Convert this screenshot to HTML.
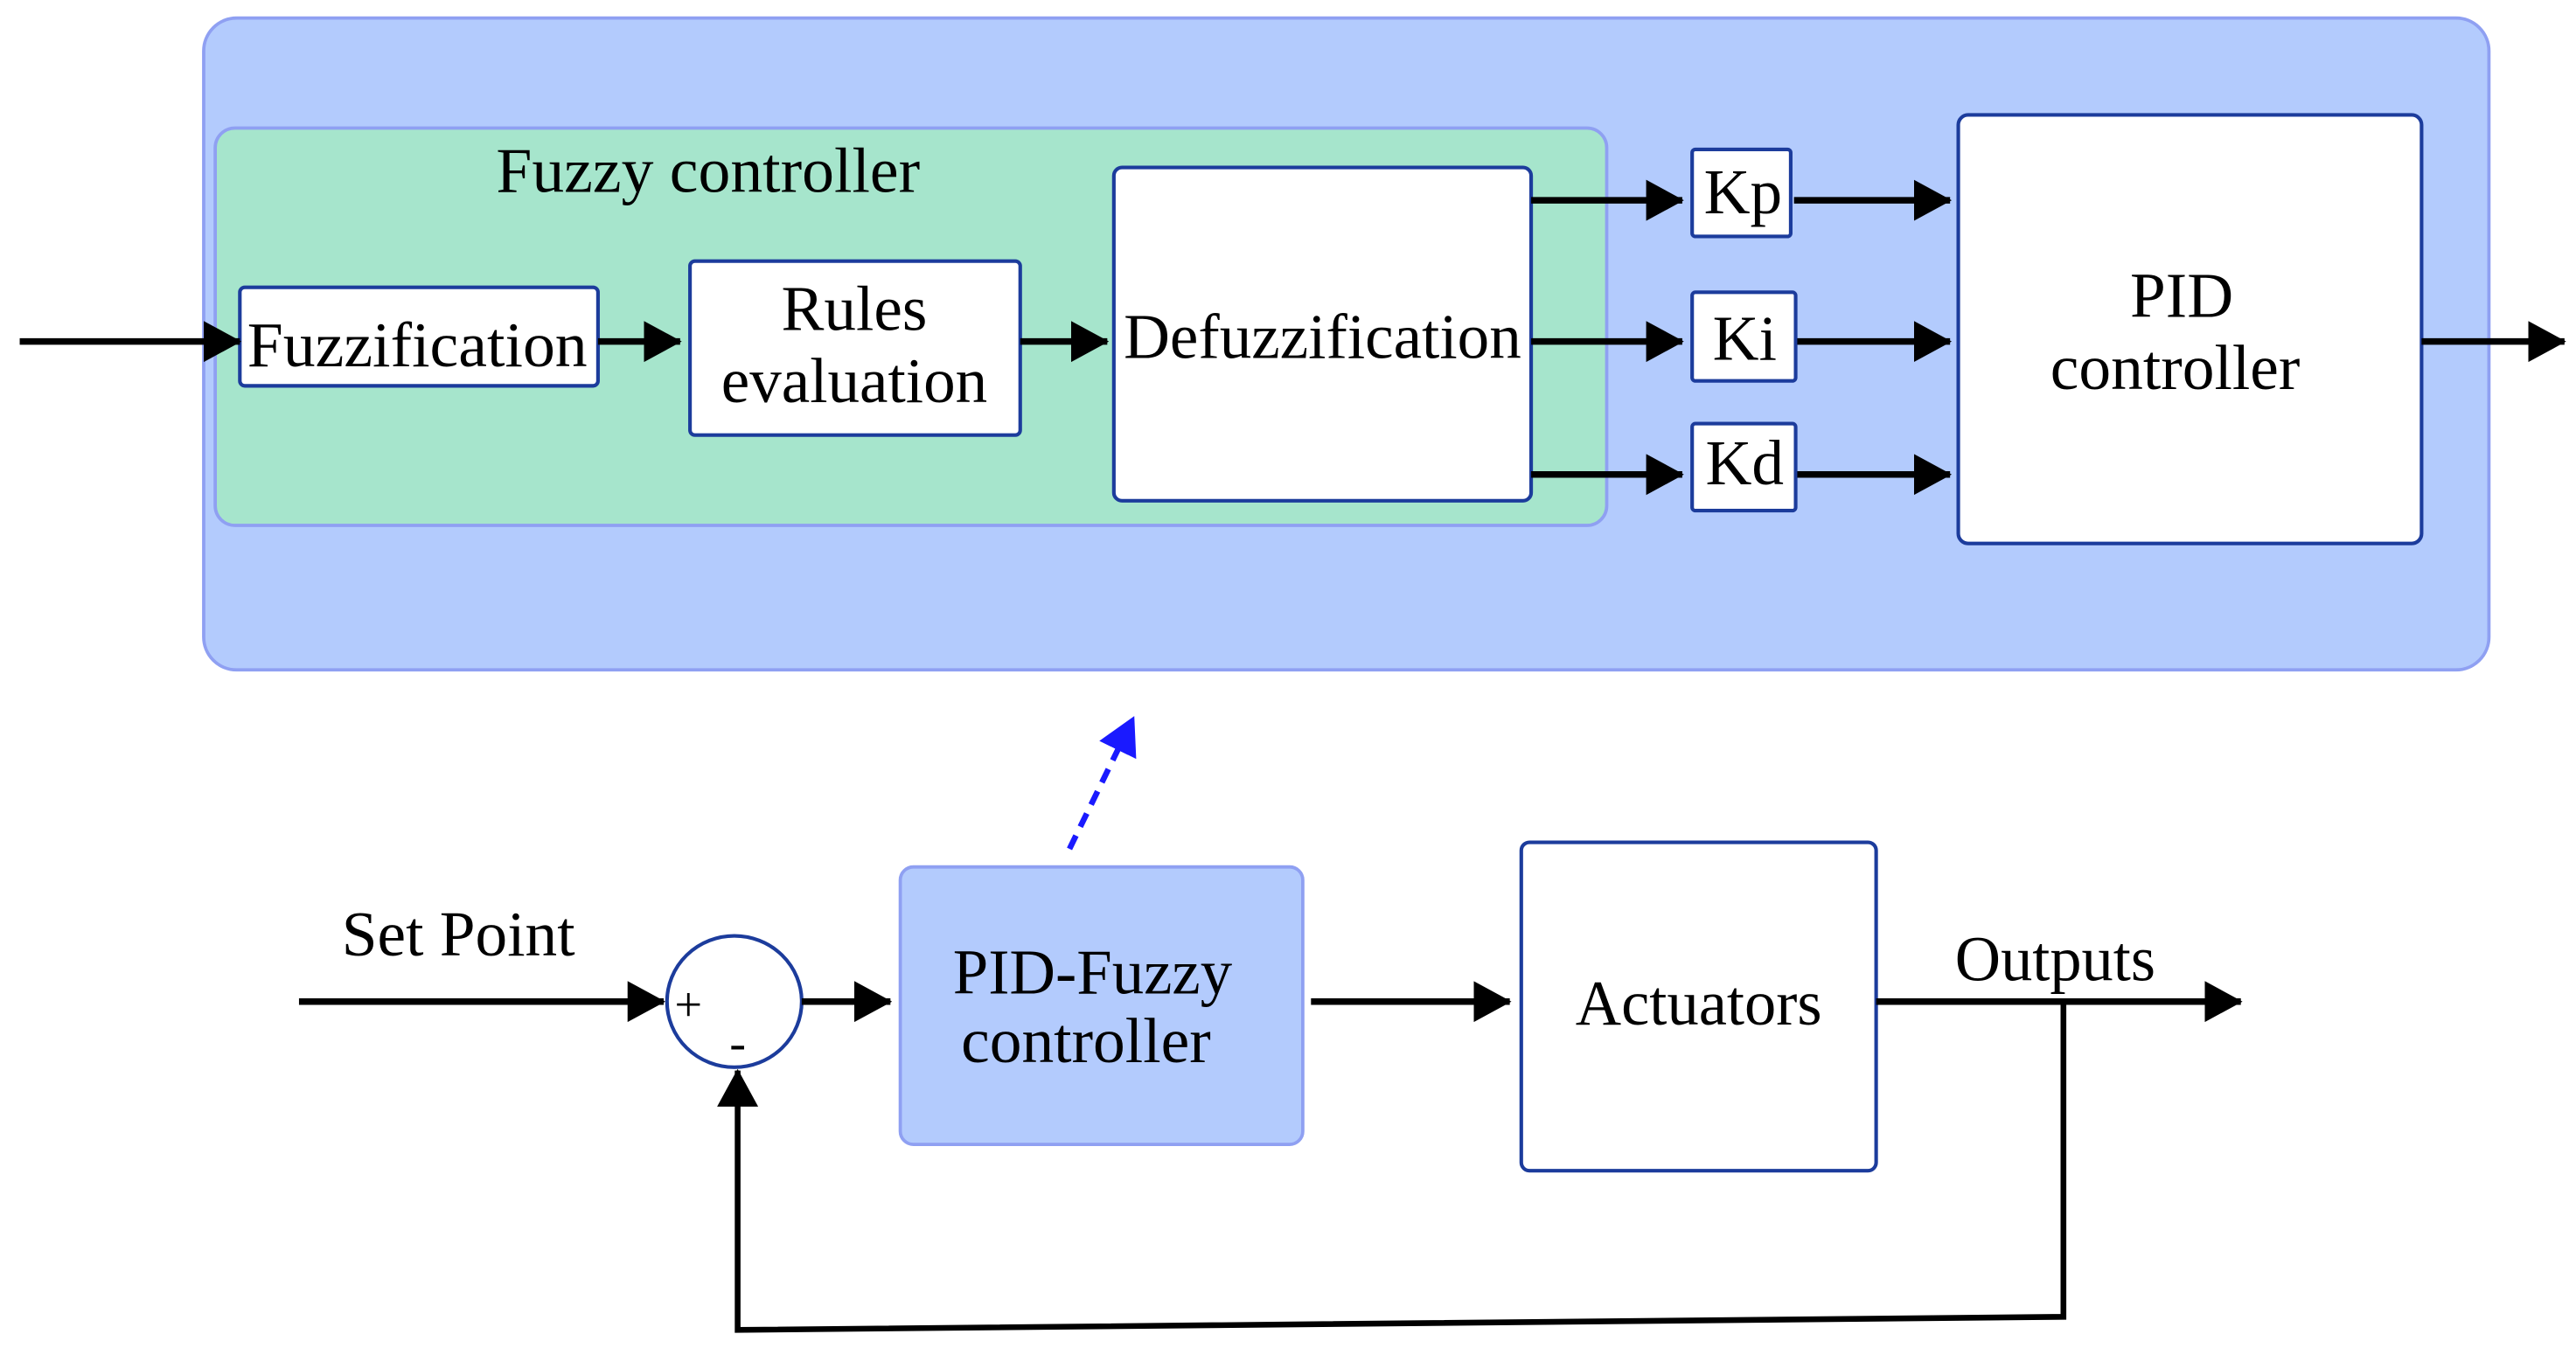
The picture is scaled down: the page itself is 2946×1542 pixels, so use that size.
<!DOCTYPE html>
<html><head><meta charset="utf-8"><style>
html,body{margin:0;padding:0;background:#fff;}
svg{display:block;}
text{font-family:"Liberation Serif",serif;fill:#000;}
</style></head><body>
<svg width="2946" height="1542" viewBox="0 0 1568 821" preserveAspectRatio="none" xmlns="http://www.w3.org/2000/svg">
<defs>
<marker id="ah" markerUnits="userSpaceOnUse" markerWidth="24" markerHeight="26" refX="22" refY="12.5" orient="auto">
<polygon points="0,0 23,12.5 0,25" fill="#000"/>
</marker>
<marker id="bh" markerUnits="userSpaceOnUse" markerWidth="24" markerHeight="26" refX="22" refY="12.5" orient="auto">
<polygon points="0,0 23,12.5 0,25" fill="#1a1aff"/>
</marker>
</defs>
<rect x="124" y="11" width="1391" height="397" rx="20" fill="#b3cbfd" stroke="#8fa0f2" stroke-width="2"/>
<rect x="131" y="78" width="847" height="242" rx="12" fill="#a6e5cc" stroke="#8fa0f2" stroke-width="2"/>
<g fill="#fff" stroke="#1c3c9c" stroke-width="2.2">
<rect x="146" y="175" width="218" height="60" rx="3"/>
<rect x="420" y="159" width="201" height="106" rx="3"/>
<rect x="678" y="102" width="254" height="203" rx="5"/>
<rect x="1030" y="91" width="60" height="53" rx="2"/>
<rect x="1030" y="178" width="63" height="54" rx="2"/>
<rect x="1030" y="258" width="63" height="53" rx="2"/>
<rect x="1192" y="70" width="282" height="261" rx="6"/>
<rect x="926" y="513" width="216" height="200" rx="5"/>
</g>
<rect x="548" y="528" width="245" height="169" rx="8" fill="#b3cbfd" stroke="#8fa0f2" stroke-width="2"/>
<ellipse cx="447" cy="610" rx="41" ry="40" fill="#fff" stroke="#1c3c9c" stroke-width="2.2"/>
<g font-size="39" text-anchor="middle">
<text x="431" y="117" textLength="258" lengthAdjust="spacingAndGlyphs">Fuzzy controller</text>
<text x="254" y="223" textLength="207" lengthAdjust="spacingAndGlyphs">Fuzzification</text>
<text x="520" y="201">Rules</text>
<text x="520" y="245" textLength="162" lengthAdjust="spacingAndGlyphs">evaluation</text>
<text x="805" y="218" textLength="242" lengthAdjust="spacingAndGlyphs">Defuzzification</text>
<text x="1061" y="130">Kp</text>
<text x="1062" y="219">Ki</text>
<text x="1062" y="295">Kd</text>
<text x="1328" y="193">PID</text>
<text x="1324" y="237" textLength="152" lengthAdjust="spacingAndGlyphs">controller</text>
<text x="665" y="605" textLength="170" lengthAdjust="spacingAndGlyphs">PID-Fuzzy</text>
<text x="661" y="647" textLength="152" lengthAdjust="spacingAndGlyphs">controller</text>
<text x="1034" y="624" textLength="150" lengthAdjust="spacingAndGlyphs">Actuators</text>
<text x="279" y="582" textLength="142" lengthAdjust="spacingAndGlyphs">Set Point</text>
<text x="1251" y="597" textLength="122" lengthAdjust="spacingAndGlyphs">Outputs</text>
</g>
<text x="419" y="622" font-size="30" text-anchor="middle">+</text>
<text x="449" y="645" font-size="30" text-anchor="middle">-</text>
<g stroke="#000" stroke-width="4" fill="none" marker-end="url(#ah)">
<line x1="12" y1="208" x2="146" y2="208"/>
<line x1="364" y1="208" x2="414" y2="208"/>
<line x1="621" y1="208" x2="674" y2="208"/>
<line x1="932" y1="122" x2="1024" y2="122"/>
<line x1="932" y1="208" x2="1024" y2="208"/>
<line x1="932" y1="289" x2="1024" y2="289"/>
<line x1="1092" y1="122" x2="1187" y2="122"/>
<line x1="1094" y1="208" x2="1187" y2="208"/>
<line x1="1094" y1="289" x2="1187" y2="289"/>
<line x1="1474" y1="208" x2="1561" y2="208"/>
<line x1="182" y1="610" x2="404" y2="610"/>
<line x1="488" y1="610" x2="542" y2="610"/>
<line x1="798" y1="610" x2="919" y2="610"/>
<line x1="1142" y1="610" x2="1364" y2="610"/>
</g>
<polyline points="1256,610 1256,802 449,810 449,652" stroke="#000" stroke-width="3.5" fill="none" marker-end="url(#ah)"/>
<line x1="651" y1="517" x2="690" y2="437" stroke="#1a1aff" stroke-width="3.5" stroke-dasharray="9,6" marker-end="url(#bh)"/>
</svg>
</body></html>
